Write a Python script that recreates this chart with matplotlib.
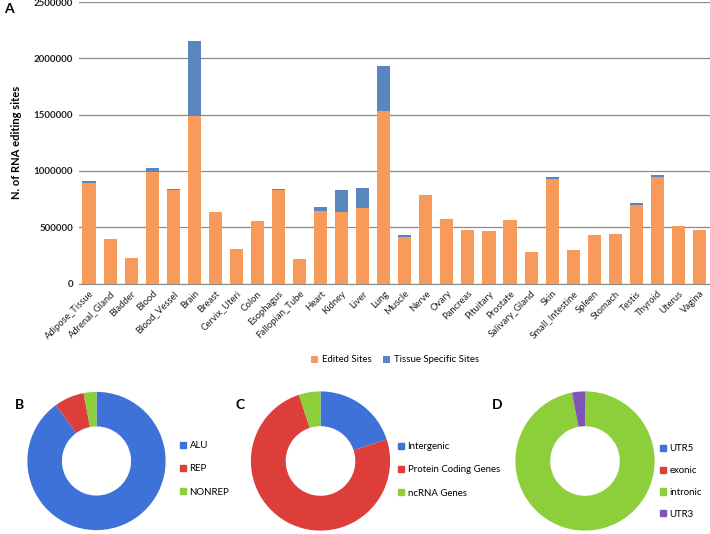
import matplotlib
matplotlib.use("Agg")
import matplotlib.pyplot as plt
import numpy as np

plt.rcParams['font.family'] = ['Lato', 'DejaVu Sans']

W, H = 710, 534

tissues = ["Adipose_Tissue", "Adrenal_Gland", "Bladder", "Blood", "Blood_Vessel",
           "Brain", "Breast", "Cervix_Uteri", "Colon", "Esophagus", "Fallopian_Tube",
           "Heart", "Kidney", "Liver", "Lung", "Muscle", "Nerve", "Ovary", "Pancreas",
           "Pituitary", "Prostate", "Salivary_Gland", "Skin", "Small_Intestine",
           "Spleen", "Stomach", "Testis", "Thyroid", "Uterus", "Vagina"]
edited = [895000, 392000, 226000, 986000, 831000, 1490000, 635000, 306000, 555000,
          831000, 217000, 644000, 638000, 671000, 1535000, 416000, 787000, 573000,
          475000, 463000, 564000, 276000, 926000, 297000, 428000, 436000, 701000,
          947000, 508000, 475000]
specific = [15000, 0, 0, 44000, 12000, 660000, 0, 0, 0, 5000, 0, 36000, 193000,
            175000, 401000, 14000, 0, 0, 0, 0, 0, 0, 18000, 0, 0, 0, 15000, 15000,
            0, 0]

b_labels = ["ALU", "REP", "NONREP"]
b_values = [90, 7, 3]
c_labels = ["Intergenic", "Protein Coding Genes", "ncRNA Genes"]
c_values = [20, 75, 5]
d_labels = ["UTR5", "exonic", "intronic", "UTR3"]
d_values = [0.1, 0.1, 96.8, 3.0]

orange = "#F79A5A"
blue = "#5A86BF"
pie_blue = "#3F72D8"
pie_red = "#DE3E3A"
pie_green = "#8DCF3B"
pie_purple = "#7C55B6"


def box(x0, y0, x1, y1):
    # pixel box (top-left origin) -> figure fraction rect
    return [x0 / W, 1 - y1 / H, (x1 - x0) / W, (y1 - y0) / H]


fig = plt.figure(figsize=(W / 100, H / 100), dpi=100)

# panel A
ax = fig.add_axes(box(78.5, 2, 710, 283.5))
x = np.arange(len(tissues))
ax.bar(x, edited, width=0.62, color=orange, zorder=3, label="Edited Sites")
ax.bar(x, specific, bottom=edited, width=0.62, color=blue, zorder=3,
       label="Tissue Specific Sites")
ax.set_xlim(-0.5, len(tissues) - 0.5)
ax.set_ylim(0, 2500000)
ax.set_yticks(np.arange(0, 2500001, 500000))
ax.set_yticklabels([str(v) for v in range(0, 2500001, 500000)], fontsize=7,
                   fontweight="bold", color="#222")
ax.yaxis.grid(True, color="#8a8a8a", linewidth=0.9, zorder=0)
for s in ["top", "right", "left"]:
    ax.spines[s].set_visible(False)
ax.spines["bottom"].set_color("#8a8a8a")
ax.tick_params(axis="both", length=0, pad=4)
ax.set_xticks(x)
ax.set_xticklabels(tissues, rotation=45, ha="right", rotation_mode="anchor",
                   fontsize=6.8, color="#222")
ax.set_ylabel("N. of RNA editing sites", fontsize=8, fontweight="bold", labelpad=8)
ax.legend(loc="center", bbox_to_anchor=(395 / W, 1 - 360 / H),
          bbox_transform=fig.transFigure, ncol=2, frameon=False, fontsize=6.9,
          handlelength=0.7, handleheight=0.7, columnspacing=1.2, handletextpad=0.4)
fig.text(4 / W, 1 - 9 / H, "A", fontsize=10, fontweight="bold", va="center")


def donut(rect, values, colors, labels, legend_xy, letter_xy, letter, spacing):
    a = fig.add_axes(rect)
    a.pie(values, colors=colors, startangle=90, counterclock=False,
          wedgeprops=dict(width=0.5, edgecolor="none"))
    a.set_aspect("equal")
    a.set_xlim(-1.02, 1.02)
    a.set_ylim(-1.02, 1.02)
    handles = [plt.Rectangle((0, 0), 1, 1, color=c) for c in colors]
    fig.legend(handles, labels, loc="upper left",
               bbox_to_anchor=(legend_xy[0] / W, 1 - legend_xy[1] / H),
               frameon=False, fontsize=6.9, handlelength=0.6, handleheight=0.6,
               handletextpad=0.4, labelspacing=spacing, borderaxespad=0,
               borderpad=0)
    fig.text(letter_xy[0] / W, 1 - letter_xy[1] / H, letter, fontsize=10,
             fontweight="bold", va="center", ha="center")


donut(box(26, 390, 167, 532), b_values, [pie_blue, pie_red, pie_green], b_labels,
      (180, 441), (19, 405), "B", 1.5)
donut(box(249, 390, 392, 532), c_values, [pie_blue, pie_red, pie_green], c_labels,
      (398, 442), (240, 405), "C", 1.5)
donut(box(514, 390, 656, 532), d_values, [pie_blue, pie_red, pie_green, pie_purple],
      d_labels, (660, 444), (497, 405), "D", 1.35)

fig.savefig("out.png", dpi=100)
